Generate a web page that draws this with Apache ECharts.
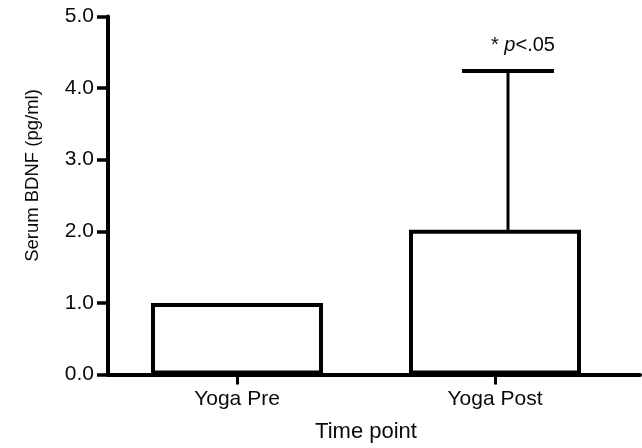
<!DOCTYPE html>
<html>
<head>
<meta charset="utf-8">
<script src="https://cdn.jsdelivr.net/npm/echarts@6/dist/echarts.min.js"></script>
<style>html,body{margin:0;padding:0;background:#fff;}#c{width:642px;height:448px;}</style>
</head>
<body>
<div id="c"></div>
<script>
const categories = ['Yoga Pre', 'Yoga Post'];
const means = [1.0, 2.02];
const errorTop = [null, 4.24];
const sigLabel = ['', '* p<.05'];
const yTicks = [0, 1, 2, 3, 4, 5];

const chart = echarts.init(document.getElementById('c'), null, {renderer: 'canvas'});
const font = 'Liberation Sans, Arial, sans-serif';
const catIdx = categories.map((c, i) => i);
const barData = means.map((v, i) => [i, v]);
const errData = [];
for (let i = 0; i < categories.length; i++) {
  if (errorTop[i] != null) errData.push([i, means[i], errorTop[i], sigLabel[i]]);
}
chart.setOption({
  animation: false,
  backgroundColor: '#fff',
  grid: {left: 108, right: 2, top: 16.5, bottom: 73.5, containLabel: false},
  xAxis: {
    type: 'value',
    min: -0.5,
    max: 1.562,
    splitLine: {show: false},
    axisLine: {show: true, onZero: false, lineStyle: {color: '#000', width: 4}},
    axisTick: {show: true, customValues: catIdx, length: 10, lineStyle: {color: '#000', width: 3}},
    axisLabel: {
      customValues: catIdx,
      fontFamily: font, fontSize: 21, color: '#0a0a0a', margin: 14,
      formatter: v => categories[Math.round(v)] || ''
    }
  },
  yAxis: {
    type: 'value',
    min: yTicks[0],
    max: yTicks[yTicks.length - 1],
    interval: 1,
    splitLine: {show: false},
    axisLine: {show: true, onZero: false, lineStyle: {color: '#000', width: 4}},
    axisTick: {show: true, length: 11, lineStyle: {color: '#000', width: 3.5}},
    axisLabel: {fontFamily: font, fontSize: 21, color: '#0a0a0a', margin: 14, formatter: v => v.toFixed(1)}
  },
  graphic: [
    {type: 'text', x: 366, y: 432, style: {text: 'Time point', fontFamily: font, fontSize: 22, fill: '#0a0a0a', align: 'center', verticalAlign: 'middle'}},
    {type: 'text', x: 33, y: 175.5, rotation: Math.PI / 2, style: {text: 'Serum BDNF (pg/ml)', fontFamily: font, fontSize: 18.5, fill: '#0a0a0a', align: 'center', verticalAlign: 'middle'}}
  ],
  series: [
    {
      type: 'bar',
      data: barData,
      barWidth: 172,
      itemStyle: {color: '#fff', borderColor: '#000', borderWidth: 4},
      z: 2
    },
    {
      type: 'custom',
      data: errData,
      z: 3,
      renderItem: function (params, api) {
        const base = api.coord([api.value(0), api.value(1)]);
        const top = api.coord([api.value(0), api.value(2)]);
        const x = base[0] + 13;
        const hw = 46;
        return {
          type: 'group',
          children: [
            {type: 'line', shape: {x1: x, y1: base[1], x2: x, y2: top[1]}, style: {stroke: '#000', lineWidth: 3}},
            {type: 'line', shape: {x1: x - hw, y1: top[1], x2: x + hw, y2: top[1]}, style: {stroke: '#000', lineWidth: 4}},
            {type: 'text', x: x + 15, y: top[1] - 25, style: {
              text: '{a|* }{p|p}{a|<.05}',
              align: 'center', verticalAlign: 'middle',
              rich: {
                a: {fontFamily: font, fontSize: 20, fill: '#0a0a0a'},
                p: {fontFamily: font, fontSize: 20, fontStyle: 'italic', fill: '#0a0a0a'}
              }
            }}
          ]
        };
      }
    }
  ]
});
</script>
</body>
</html>
